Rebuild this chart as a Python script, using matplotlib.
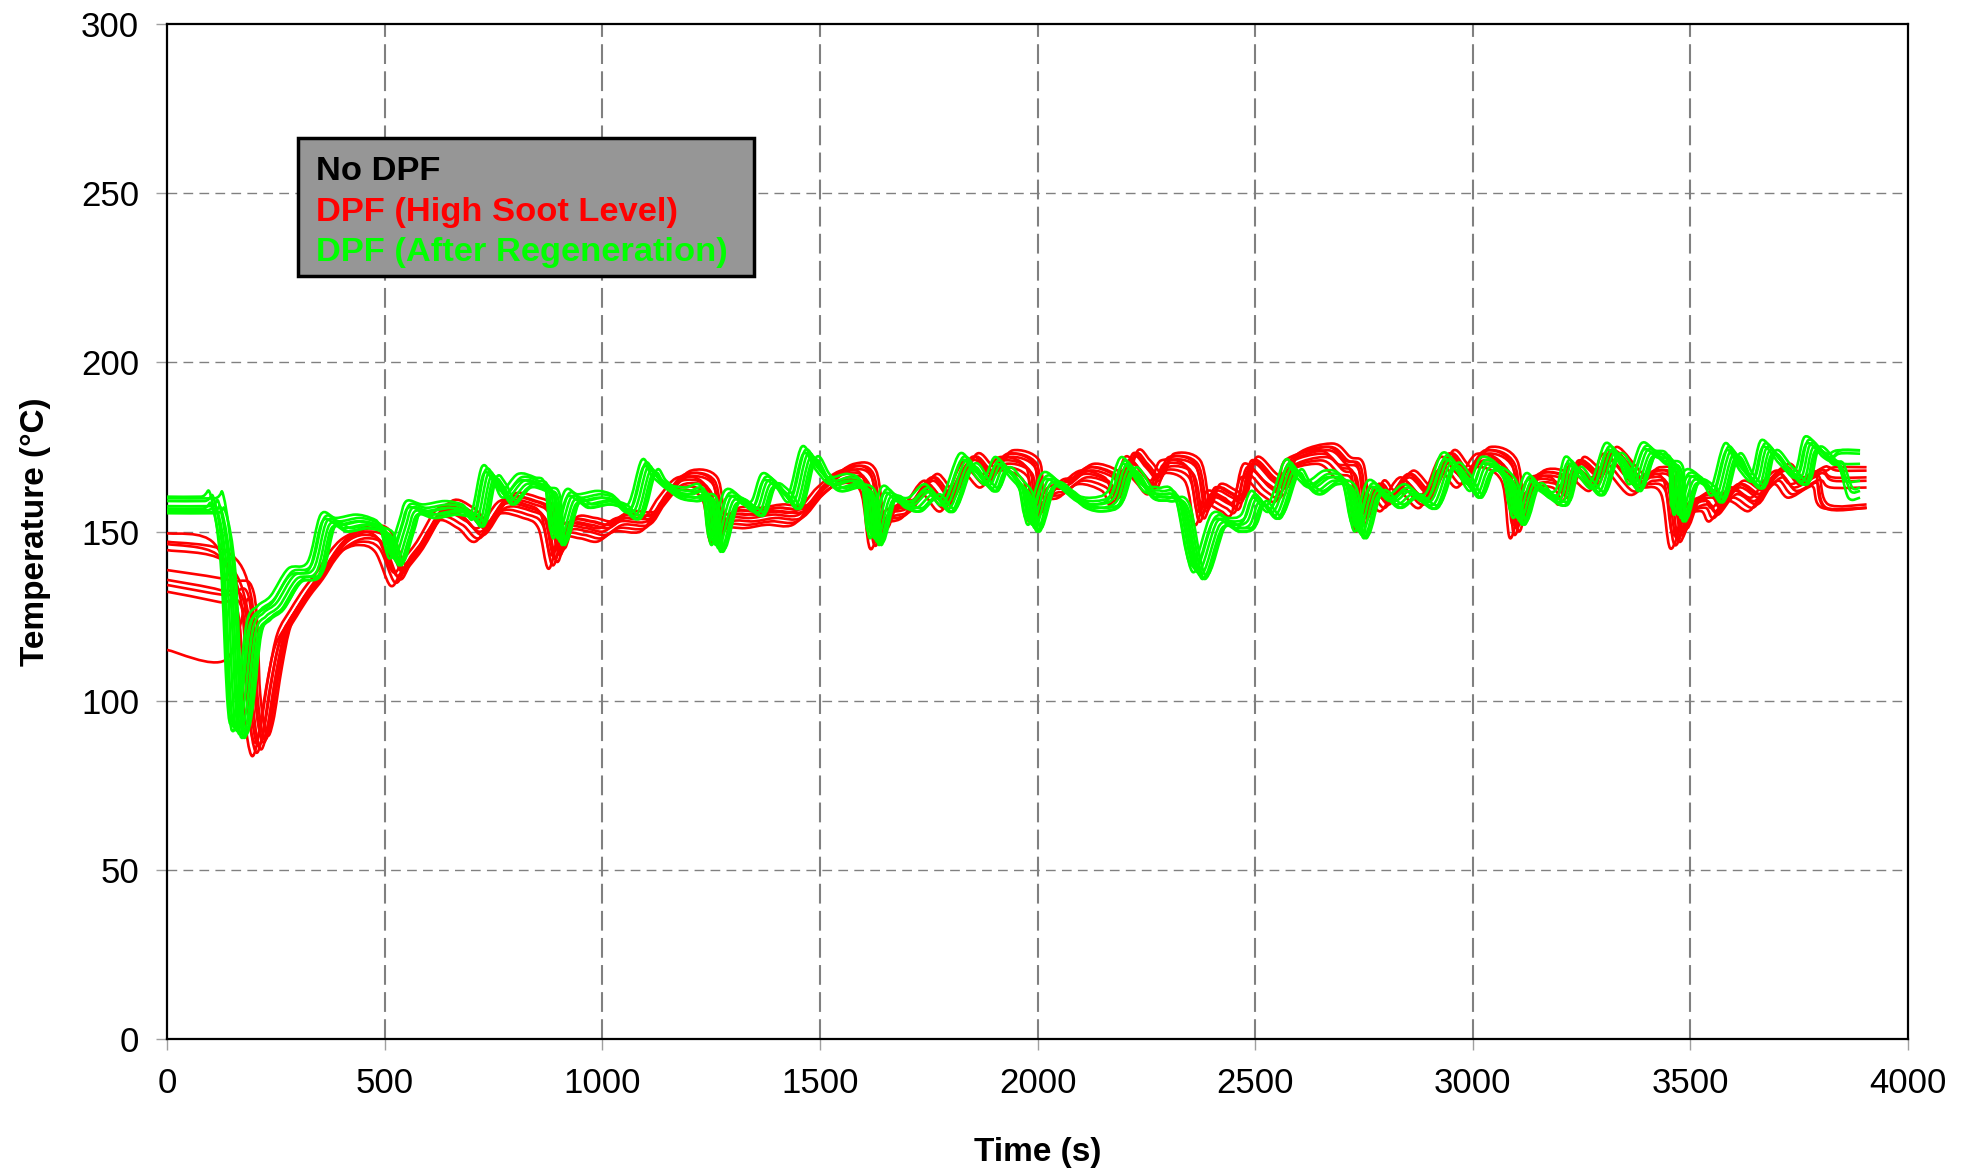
import matplotlib.pyplot as plt
import numpy as np
from matplotlib.patches import PathPatch, Rectangle
from matplotlib.path import Path

plt.rcParams["font.family"] = ["Liberation Sans", "DejaVu Sans"]

# DPF with high soot level: reference trace (s, degC) after the cold-start hold
red_times = [175, 190, 205, 220, 240, 260, 290, 320, 350, 380, 410, 450, 490, 525,
             550, 580, 630, 680, 720, 770, 830, 865, 888, 915, 960, 1000, 1040, 1100,
             1135, 1180, 1240, 1260, 1290, 1340, 1390, 1450, 1500, 1555, 1605, 1627,
             1655, 1700, 1745, 1790, 1837, 1880, 1920, 1980, 1992, 2030, 2060, 2105,
             2160, 2180, 2207, 2235, 2266, 2290, 2350, 2373, 2396, 2434, 2457, 2480,
             2526, 2560, 2575, 2655, 2695, 2725, 2742, 2771, 2800, 2840, 2890, 2932,
             2975, 3017, 3078, 3098, 3130, 3185, 3210, 3231, 3280, 3308, 3369, 3407,
             3445, 3466, 3499, 3537, 3556, 3598, 3645, 3675, 3706, 3736, 3782, 3795]
red_temps = [130, 100, 88, 92, 108, 120, 127, 133, 138, 144, 148, 150, 148, 138,
             142, 147, 157, 155, 151, 159, 158, 155, 143, 152, 152, 151, 154, 154,
             160, 166, 164, 151, 155, 155, 156, 156, 163, 168, 166, 149,
             156, 158, 165, 160, 171, 167, 172, 169, 157, 163, 164, 168,
             166, 162, 172, 169, 165, 171, 169, 156, 162, 160, 159, 170,
             165, 163, 171, 174, 170, 168, 154, 163, 160, 166, 161, 172,
             167, 173, 169, 152, 165, 166, 162, 170, 166, 173, 165, 167,
             165, 149, 158, 160, 157, 163, 160, 165, 168, 164, 167, 167]
red_start = [149.5, 147.0, 146.3, 144.5, 138.6, 135.7, 134.2, 132.2, 115.0]
red_lag = [-12, 18, -6, 8, 24, 2, 12, -2, 14]
red_offset = [-4, 1, 0, -2, 2, -1, 1, -3, 0]
red_end = [157, 169, 157, 163, 168, 158, 166, 157, 165]

# DPF after regeneration
green_times = [135, 150, 160, 175, 195, 220, 250, 290, 335, 365, 400, 445, 480, 500,
               520, 545, 562, 600, 650, 690, 712, 735, 757, 780, 818, 857, 880, 895,
               926, 956, 1000, 1033, 1071, 1102, 1125, 1163, 1202, 1240, 1259, 1293,
               1332, 1355, 1378, 1408, 1439, 1470, 1500, 1531, 1577, 1608, 1623, 1653,
               1684, 1715, 1753, 1791, 1833, 1868, 1891, 1914, 1945, 1968, 1987, 2021,
               2059, 2098, 2136, 2174, 2205, 2251, 2289, 2327, 2365, 2411, 2450, 2480,
               2503, 2541, 2580, 2603, 2633, 2672, 2710, 2737, 2771, 2817, 2855, 2902,
               2940, 2971, 3002, 3032, 3078, 3101, 3132, 3162, 3201, 3224, 3254, 3285,
               3316, 3346, 3369, 3399, 3430, 3461, 3470, 3499, 3537, 3560, 3591, 3622,
               3652, 3675, 3713, 3752, 3775, 3813, 3830]
green_temps = [140, 100, 92, 100, 122, 127, 130, 138, 140, 154, 153, 154, 153, 151,
               143, 152, 158, 157, 158, 157, 155, 168, 166, 161, 166, 165, 163, 149,
               161, 160, 161, 160, 157, 170, 167, 163, 162, 162, 147, 161,
               159, 158, 166, 164, 160, 174, 169, 165, 166, 163, 149, 162,
               160, 159, 163, 159, 172, 167, 165, 171, 167, 163, 153, 166,
               164, 160, 159, 161, 171, 163, 162, 160, 139, 154, 153, 154,
               161, 157, 170, 167, 164, 167, 165, 151, 164, 160, 163, 160,
               172, 169, 163, 171, 167, 155, 166, 163, 161, 171, 167, 164,
               175, 171, 165, 175, 173, 171, 156, 167, 165, 162, 175, 169,
               166, 176, 171, 167, 177, 173, 172]
green_start = [160.3, 159.8, 159.0, 157.5, 156.8, 156.3, 155.8, 155.4]
green_lag = [-12, 18, -4, 8, -8, 2, 13, 22]
green_offset = [1, -3, 0, -2, -1, -1, -3, -2]
green_end = [174, 162, 174, 165, 173, 170, 160, 163]


def build_run(start, lag, offset, end, lead_dt, lead_dT, times, temps, end_times):
    t = [0.0] + [dt + lag for dt in lead_dt]
    y = [start] + [start + d for d in lead_dT]
    t += [x + lag for x in times]
    y += [v + offset for v in temps]
    t += [end_times[0] + lag, end_times[1]]
    y += [end, end]
    return t, y


def smoothed_path(t, y):
    # Catmull-Rom through the logged points, drawn as cubic Bezier segments
    pts = np.column_stack([t, y])
    n = len(pts)
    verts = [pts[0]]
    codes = [Path.MOVETO]
    for i in range(n - 1):
        p0 = pts[max(i - 1, 0)]
        p1 = pts[i]
        p2 = pts[i + 1]
        p3 = pts[min(i + 2, n - 1)]
        verts += [p1 + (p2 - p0) / 6, p2 - (p3 - p1) / 6, p2]
        codes += [Path.CURVE4] * 3
    return Path(verts, codes)


fig = plt.figure(figsize=(19.7, 11.72), dpi=100)
ax = fig.add_axes([0.0848, 0.1135, 0.8837, 0.866])

for s, lag, off, end in zip(red_start, red_lag, red_offset, red_end):
    t, y = build_run(s, lag, off, end, [120], [-3], red_times, red_temps, (3815, 3905))
    ax.add_patch(PathPatch(smoothed_path(t, y), fill=False, edgecolor="#ff0000",
                           lw=1.9, joinstyle="round", zorder=3))

for s, lag, off, end in zip(green_start, green_lag, green_offset, green_end):
    t, y = build_run(s, lag, off, end, [90, 112], [0, 0.5], green_times, green_temps,
                     (3850, 3890))
    ax.add_patch(PathPatch(smoothed_path(t, y), fill=False, edgecolor="#00ff00",
                           lw=1.9, joinstyle="round", zorder=4))

ax.set_xlim(0, 4000)
ax.set_ylim(0, 300)
ax.set_xticks(range(0, 4001, 500))
ax.set_yticks(range(0, 301, 50))

for x in range(500, 4000, 500):
    ax.axvline(x, color="#808080", lw=1.5, linestyle=(0, (9.5, 3.5)), zorder=1)
for y in range(50, 300, 50):
    ax.axhline(y, color="#808080", lw=1.0, linestyle=(0, (7, 4.5)), zorder=1)

for spine in ax.spines.values():
    spine.set_linewidth(1.6)
    spine.set_color("black")
ax.tick_params(direction="out", length=8, width=1.0, color="#a0a0a0",
               labelsize=25, pad=12)

ax.set_xlabel("Time (s)", fontsize=24, fontweight="bold", labelpad=27)
ax.set_ylabel("Temperature (°C)", fontsize=24, fontweight="bold", labelpad=22)

fig.patches.append(Rectangle((0.1513, 0.7645), 0.2314, 0.1178, transform=fig.transFigure,
                             facecolor="#969696", edgecolor="black", lw=2.5, zorder=5))
legend_rows = [("No DPF", "black", 0.8464),
               ("DPF (High Soot Level)", "#ff0000", 0.8114),
               ("DPF (After Regeneration)", "#00ff00", 0.7773)]
for label, color, ypos in legend_rows:
    fig.text(0.1604, ypos, label, color=color, fontsize=24.8, fontweight="bold",
             va="baseline", zorder=6)

fig.savefig("out.png", dpi=100)
